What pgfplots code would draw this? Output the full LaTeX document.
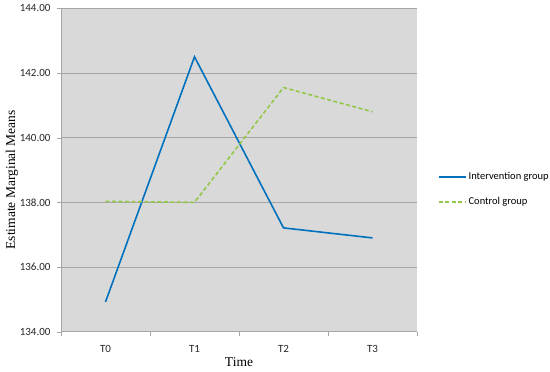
\documentclass[border=0pt]{standalone}
\usepackage{pgfplots}
\pgfplotsset{compat=1.18}
\usepackage{fontspec}
\setmainfont{Carlito}
\newfontfamily\serif{Liberation Serif}
\definecolor{bgc}{RGB}{217,217,217}
\definecolor{gridc}{RGB}{166,166,166}
\definecolor{bluec}{RGB}{0,114,189}
\definecolor{greenc}{RGB}{146,200,70}
\begin{document}
\begin{tikzpicture}
\path[use as bounding box] (0,0) rectangle (550pt,372pt);
\begin{axis}[
  at={(61pt,40.3pt)}, anchor=south west,
  scale only axis, width=356pt, height=323.4pt,
  xmin=-0.5, xmax=3.5, ymin=134, ymax=144,
  xtick={0,1,2,3}, xticklabels={T0,T1,T2,T3},
  minor xtick={-0.5,0.5,1.5,2.5,3.5},
  ytick={134,136,138,140,142,144},
  /pgf/number format/assume math mode=true,
  tick label style={font=\fontsize{11}{13}\selectfont, text=black!85},
  yticklabel style={xshift=-3pt, /pgf/number format/fixed, /pgf/number format/fixed zerofill, /pgf/number format/precision=2},
  major x tick style={draw=none},
  minor x tick style={draw=gridc},
  minor tick length=4pt,
  major tick length=4pt,
  y tick style={draw=gridc},
  tick align=outside,
  axis background/.style={fill=bgc},
  ymajorgrids, grid style={gridc, line width=0.8pt},
  axis line style={gridc},
  axis x line*=bottom, axis y line*=left,
  xticklabel style={yshift=-6pt},
  xlabel={\serif Time}, ylabel={\serif Estimate Marginal Means},
  label style={font=\fontsize{13.5}{15}\selectfont},
  xlabel style={at={(axis description cs:0.5,0)}, anchor=center, yshift=-30pt},
  ylabel style={at={(axis description cs:-0.138,0.47)}, anchor=center},
  legend style={draw=none, fill=none, at={(1.05,0.44)}, anchor=west,
    font=\fontsize{10.5}{12}\selectfont, row sep=12pt},
  legend cell align=left,
]
\addlegendimage{bluec, line width=1.6pt, legend image code/.code={\draw[bluec, line width=1.6pt] (0cm,0cm) -- (0.95cm,0cm);}}
\addlegendentry{Intervention group}
\addlegendimage{greenc, line width=1.6pt, legend image code/.code={\draw[greenc, line width=1.6pt, dash pattern=on 4pt off 2.5pt] (0cm,0cm) -- (0.95cm,0cm);}}
\addlegendentry{Control group}
\addplot[bluec, line width=1.6pt, forget plot] coordinates {(0,134.92) (1,142.50) (2,137.21) (3,136.90)};
\addplot[greenc, line width=1.6pt, dash pattern=on 4pt off 2.5pt, forget plot] coordinates {(0,138.03) (1,138.00) (2,141.55) (3,140.80)};
\end{axis}
\end{tikzpicture}
\end{document}
